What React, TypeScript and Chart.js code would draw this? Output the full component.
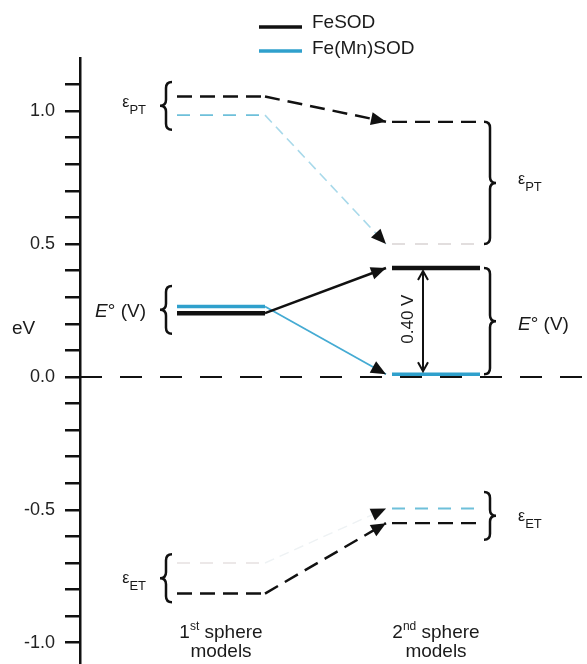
import { useEffect, useRef } from 'react';
import { Chart, registerables } from 'chart.js';

Chart.register(...registerables);

// ---- data (eV) : [1st sphere models, 2nd sphere models] ----
const MODELS = ['1st sphere', '2nd sphere'];
const SERIES = ['FeSOD', 'Fe(Mn)SOD'];
const FESOD_EPT = [1.055, 0.96];
const FEMNSOD_EPT = [0.985, 0.5];
const FESOD_E0 = [0.24, 0.41];
const FEMNSOD_E0 = [0.265, 0.01];
const FESOD_EET = [-0.815, -0.55];
const FEMNSOD_EET = [-0.7, -0.495];
const Y_TICK_LABELS = [1.0, 0.5, 0.0, -0.5, -1.0];

// ---- layout (x in arbitrary units, 100px per unit) ----
const L1 = [0.97, 1.85];
const L2 = [3.12, 4.0];
const TIP = 3.06;
const BRACE_L = 0.86;
const BRACE_R = 4.1;
const LABEL_L = 0.66;
const LABEL_R = 4.38;
const DELTA_X = 3.43;

const FONT = '"Liberation Sans", Arial, Helvetica, sans-serif';
const BLACK = '#111';
const BLUE = '#2fa0cc';
const DASH = [15, 8];

function font(size: number, italic = false) {
  return `${italic ? 'italic ' : ''}${size}px ${FONT}`;
}

type Style = { color: string; width: number; dash?: number[] };

function series(name: string, vals: number[], lv1: Style, tr: Style, lv2: Style) {
  const mk = (s: Style, data: { x: number; y: number }[], extra: any = {}) => ({
    label: name,
    data,
    borderColor: s.color,
    borderWidth: s.width,
    borderDash: s.dash || [],
    pointRadius: 0,
    fill: false,
    tension: 0,
    ...extra,
  });
  return [
    mk(lv1, [{ x: L1[0], y: vals[0] }, { x: L1[1], y: vals[0] }]),
    mk(tr, [{ x: L1[1], y: vals[0] }, { x: TIP, y: vals[1] }], { arrow: true }),
    mk(lv2, [{ x: L2[0], y: vals[1] }, { x: L2[1], y: vals[1] }]),
  ];
}

const datasets: any[] = [
  ...series(SERIES[0], FESOD_EPT,
    { color: BLACK, width: 2.5, dash: DASH },
    { color: BLACK, width: 2.5, dash: DASH },
    { color: BLACK, width: 2.2, dash: DASH }),
  ...series(SERIES[0], FESOD_E0,
    { color: BLACK, width: 4.5 },
    { color: BLACK, width: 2.5 },
    { color: BLACK, width: 4.5 }),
  ...series(SERIES[0], FESOD_EET,
    { color: BLACK, width: 2.5, dash: DASH },
    { color: BLACK, width: 2.5, dash: DASH },
    { color: BLACK, width: 2.2, dash: DASH }),
  ...series(SERIES[1], FEMNSOD_EPT,
    { color: '#6ec0da', width: 1.8, dash: [13, 10] },
    { color: '#a8d9ea', width: 1.6, dash: [10, 6] },
    { color: '#d9d3d3', width: 1.6, dash: [13, 10] }),
  ...series(SERIES[1], FEMNSOD_E0,
    { color: BLUE, width: 3.5 },
    { color: '#45abd3', width: 1.8 },
    { color: BLUE, width: 3.5 }),
  ...series(SERIES[1], FEMNSOD_EET,
    { color: '#e6e1e1', width: 1.6, dash: [13, 10] },
    { color: '#eef2f4', width: 1.4, dash: [10, 6] },
    { color: '#6ec0da', width: 2, dash: [13, 10] }),
  {
    label: 'zero',
    data: [{ x: 0, y: 0 }, { x: 5.07, y: 0 }],
    borderColor: BLACK,
    borderWidth: 2,
    borderDash: [22, 18],
    pointRadius: 0,
  },
];

function drawParts(ctx: CanvasRenderingContext2D, parts: { t: string; f: string; dy?: number }[], x: number, y: number, align: 'left' | 'right' | 'center') {
  let total = 0;
  for (const p of parts) { ctx.font = p.f; total += ctx.measureText(p.t).width; }
  let cx = align === 'left' ? x : align === 'right' ? x - total : x - total / 2;
  ctx.textAlign = 'left';
  ctx.textBaseline = 'middle';
  for (const p of parts) {
    ctx.font = p.f;
    ctx.fillText(p.t, cx, y + (p.dy || 0));
    cx += ctx.measureText(p.t).width;
  }
}

function brace(ctx: CanvasRenderingContext2D, xs: number, y1: number, y2: number, dir: number) {
  // dir = -1 -> "{" (tip left), dir = 1 -> "}" (tip right)
  const r = 6;
  const ym = (y1 + y2) / 2;
  const e = -dir * r;
  const t = dir * r;
  ctx.beginPath();
  ctx.moveTo(xs + e, y1);
  ctx.quadraticCurveTo(xs, y1, xs, y1 + r);
  ctx.lineTo(xs, ym - r);
  ctx.quadraticCurveTo(xs, ym, xs + t, ym);
  ctx.quadraticCurveTo(xs, ym, xs, ym + r);
  ctx.lineTo(xs, y2 - r);
  ctx.quadraticCurveTo(xs, y2, xs + e, y2);
  ctx.lineWidth = 2.5;
  ctx.strokeStyle = BLACK;
  ctx.setLineDash([]);
  ctx.stroke();
}

const annotations = {
  id: 'annotations',
  afterDatasetsDraw(chart: any) {
    const { ctx, scales } = chart;
    const xs = scales.x;
    const ys = scales.y;
    const px = (v: number) => xs.getPixelForValue(v);
    const py = (v: number) => ys.getPixelForValue(v);
    ctx.save();

    // arrowheads on transitions
    chart.data.datasets.forEach((ds: any, i: number) => {
      if (!ds.arrow) return;
      const meta = chart.getDatasetMeta(i);
      const a = meta.data[0];
      const b = meta.data[1];
      const ang = Math.atan2(b.y - a.y, b.x - a.x);
      const len = 15, hw = 6.5;
      ctx.beginPath();
      ctx.moveTo(b.x, b.y);
      ctx.lineTo(b.x - len * Math.cos(ang) + hw * Math.sin(ang), b.y - len * Math.sin(ang) - hw * Math.cos(ang));
      ctx.lineTo(b.x - len * Math.cos(ang) - hw * Math.sin(ang), b.y - len * Math.sin(ang) + hw * Math.cos(ang));
      ctx.closePath();
      ctx.fillStyle = BLACK;
      ctx.fill();
    });

    // braces
    const groups = [
      [FESOD_EPT, FEMNSOD_EPT],
      [FESOD_E0, FEMNSOD_E0],
      [FESOD_EET, FEMNSOD_EET],
    ];
    const half = 0.09;
    const braceSpans: number[][][] = groups.map((g) =>
      [0, 1].map((k) => {
        const hi = Math.max(g[0][k], g[1][k]);
        const lo = Math.min(g[0][k], g[1][k]);
        const mid = (hi + lo) / 2;
        return hi - lo < 2 * half ? [mid + half, mid - half] : [hi, lo];
      })
    );
    braceSpans.forEach((sp) => {
      brace(ctx, px(BRACE_L), py(sp[0][0]), py(sp[0][1]), -1);
      brace(ctx, px(BRACE_R), py(sp[1][0]), py(sp[1][1]), 1);
    });

    ctx.fillStyle = '#1a1a1a';
    const eps = (sub: string, x: number, y: number, align: 'left' | 'right') =>
      drawParts(ctx, [
        { t: 'ε', f: font(16), dy: -3.5 },
        { t: sub, f: font(13), dy: 4.5 },
      ], x, y, align);
    const eo = (x: number, y: number, align: 'left' | 'right') =>
      drawParts(ctx, [
        { t: 'E', f: font(19, true) },
        { t: '° (V)', f: font(19) },
      ], x, y, align);

    const mid = (g: number[][], k: number) => py((g[0][k] + g[1][k]) / 2);
    eps('PT', px(LABEL_L), mid(groups[0], 0), 'right');
    eps('PT', px(LABEL_R), mid(groups[0], 1), 'left');
    eo(px(LABEL_L), mid(groups[1], 0) + 2, 'right');
    eo(px(LABEL_R), mid(groups[1], 1) + 4, 'left');
    eps('ET', px(LABEL_L), mid(groups[2], 0) + 4, 'right');
    eps('ET', px(LABEL_R), mid(groups[2], 1) + 4, 'left');

    // double arrow between E° of 2nd sphere models
    const yTop = py(FESOD_E0[1]) + 3;
    const yBot = py(FEMNSOD_E0[1]) - 3;
    const dx = px(DELTA_X);
    ctx.strokeStyle = BLACK;
    ctx.lineWidth = 2;
    ctx.setLineDash([]);
    ctx.beginPath();
    ctx.moveTo(dx, yTop);
    ctx.lineTo(dx, yBot);
    ctx.moveTo(dx - 5, yTop + 9);
    ctx.lineTo(dx, yTop);
    ctx.lineTo(dx + 5, yTop + 9);
    ctx.moveTo(dx - 5, yBot - 9);
    ctx.lineTo(dx, yBot);
    ctx.lineTo(dx + 5, yBot - 9);
    ctx.stroke();
    const delta = (FESOD_E0[1] - FEMNSOD_E0[1]).toFixed(2) + ' V';
    ctx.save();
    ctx.translate(dx - 15, (yTop + yBot) / 2 - 2);
    ctx.rotate(-Math.PI / 2);
    ctx.font = font(17);
    ctx.textAlign = 'center';
    ctx.textBaseline = 'middle';
    ctx.fillText(delta, 0, 0);
    ctx.restore();

    // eV axis title
    ctx.font = font(19);
    ctx.textAlign = 'left';
    ctx.textBaseline = 'middle';
    ctx.fillText('eV', 12, py(0.18));

    // model labels
    const sups = ['st', 'nd'];
    MODELS.forEach((m, i) => {
      const L = i === 0 ? L1 : L2;
      const cx = px((L[0] + L[1]) / 2);
      const [num, ...rest] = m.split(' ');
      const digit = num.replace(/\D/g, '');
      drawParts(ctx, [
        { t: digit, f: font(19) },
        { t: sups[i], f: font(12), dy: -6 },
        { t: ' ' + rest.join(' '), f: font(19) },
      ], cx, py(-0.963), 'center');
      ctx.font = font(19);
      ctx.textAlign = 'center';
      ctx.fillText('models', cx, py(-1.033));
    });

    // legend
    const leg = [
      { name: SERIES[0], color: BLACK, y: 27, ty: 23 },
      { name: SERIES[1], color: BLUE, y: 51, ty: 49 },
    ];
    leg.forEach((l) => {
      ctx.strokeStyle = l.color;
      ctx.lineWidth = 3.5;
      ctx.beginPath();
      ctx.moveTo(259, l.y);
      ctx.lineTo(302, l.y);
      ctx.stroke();
      ctx.fillStyle = '#1a1a1a';
      ctx.font = font(19);
      ctx.textAlign = 'left';
      ctx.textBaseline = 'middle';
      ctx.fillText(l.name, 312, l.ty);
    });

    ctx.restore();
  },
};

export default function App() {
  const ref = useRef<HTMLCanvasElement>(null);
  useEffect(() => {
    const canvas = ref.current!;
    const chart = new Chart(canvas, {
      type: 'line',
      data: { datasets },
      options: {
        animation: false,
        responsive: false,
        devicePixelRatio: 1,
        layout: { padding: { top: 58, left: 0, right: 0, bottom: 0 } },
        plugins: { legend: { display: false }, tooltip: { enabled: false } },
        scales: {
          x: { type: 'linear', min: 0, max: 5.07, display: false },
          y: {
            type: 'linear',
            min: -1.08,
            max: 1.2,
            afterBuildTicks: (s: any) => {
              const t = [];
              for (let i = -10; i <= 11; i++) t.push({ value: i / 10 });
              s.ticks = t;
            },
            afterFit: (s: any) => {
              s.width = 80;
              s.paddingTop = 0;
              s.paddingBottom = 0;
            },
            ticks: {
              padding: 10,
              color: '#222',
              font: { family: FONT, size: 18 },
              callback: (v: any) => {
                const n = Number(v);
                return Y_TICK_LABELS.some((t) => Math.abs(t - n) < 1e-6) ? n.toFixed(1) : '';
              },
            },
            grid: {
              drawOnChartArea: false,
              drawTicks: true,
              tickLength: 15,
              lineWidth: 2.5,
              tickWidth: 2.5,
              color: BLACK,
              tickColor: BLACK,
            },
            border: { display: true, color: BLACK, width: 2.5 },
          },
        },
      } as any,
      plugins: [annotations],
    });
    return () => chart.destroy();
  }, []);
  return (
    <div style={{ position: 'fixed', left: 0, top: 0, width: 587, height: 664, background: '#fff' }}>
      <canvas ref={ref} width={587} height={664} style={{ display: 'block' }} />
    </div>
  );
}
